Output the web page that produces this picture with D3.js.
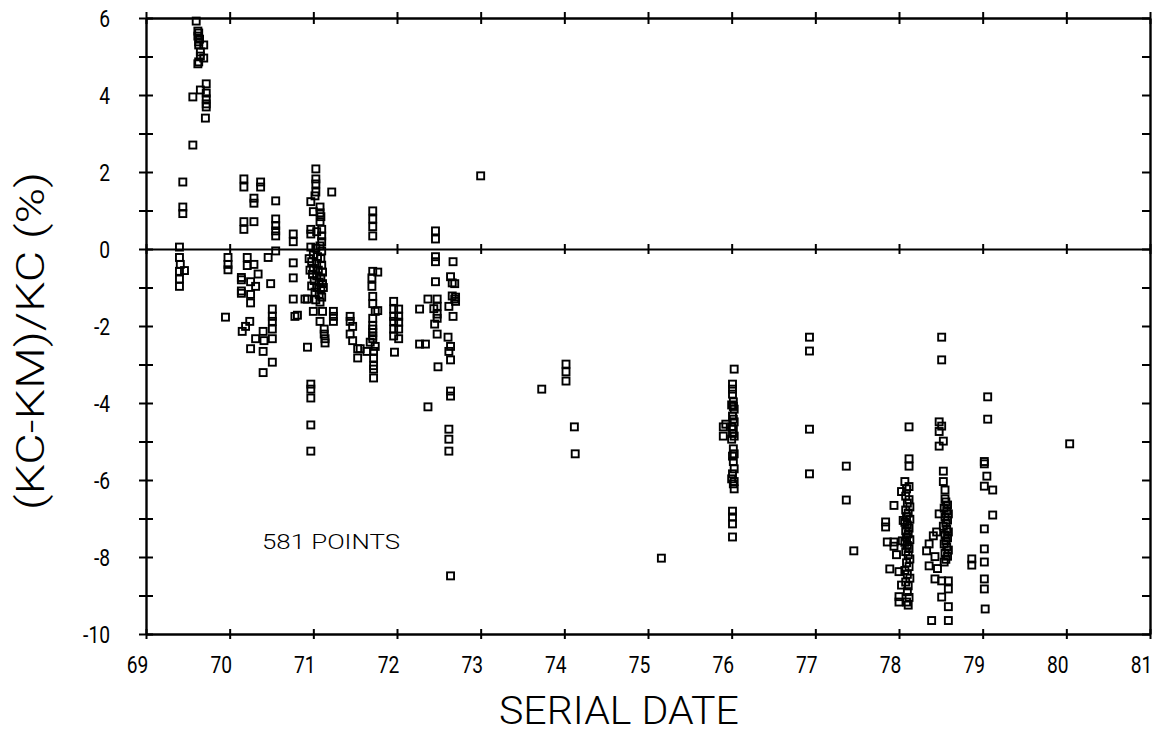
<!DOCTYPE html>
<html>
<head>
<meta charset="utf-8">
<script src="https://cdn.jsdelivr.net/npm/d3@7"></script>
<style>
  body { margin: 0; background: #fff; }
  svg { display: block; }
  text { font-family: Roboto, "Liberation Sans", sans-serif; fill: #000; }
</style>
</head>
<body>
<svg id="chart" width="1153" height="736"></svg>
<script>
// Axis ticks and labels
const xTickValues = d3.range(69, 82);          // serial date, one tick per year
const yTickValues = d3.range(-10, 7);          // percent, labels on even values
const xTitle = "SERIAL DATE";
const yTitle = "(KC-KM)/KC (%)";
const noteText = "581 POINTS";

// Measurements: [serial date, (KC-KM)/KC in %]
const points1969 = [
  [69.40, 0.05], [69.40, -0.22], [69.41, -0.40], [69.40, -0.58], [69.46, -0.56], [69.40, -0.78],
  [69.40, -0.97], [69.44, 1.74], [69.44, 1.09], [69.44, 0.92],
  [69.60, 5.92], [69.62, 5.66], [69.63, 5.61], [69.62, 5.53], [69.64, 5.45], [69.63, 5.38],
  [69.63, 5.30], [69.69, 5.30], [69.65, 5.12], [69.65, 5.01], [69.69, 4.96], [69.63, 4.86],
  [69.62, 4.81], [69.72, 4.29], [69.65, 4.13], [69.56, 3.95], [69.72, 4.05], [69.72, 3.90],
  [69.72, 3.77], [69.72, 3.69], [69.71, 3.40], [69.56, 2.70]
];

const points1970 = [
  [69.95, -1.77], [69.98, -0.22], [69.98, -0.40], [69.98, -0.54],
  [70.17, 1.82], [70.17, 1.61], [70.37, 1.74], [70.37, 1.61], [70.29, 1.32], [70.29, 1.19], [70.55, 1.25],
  [70.17, 0.71], [70.17, 0.51], [70.29, 0.71], [70.55, 0.78], [70.55, 0.61], [70.55, 0.47], [70.55, 0.34],
  [70.76, 0.39], [70.76, 0.19], [70.55, -0.05], [70.46, -0.22],
  [70.21, -0.22], [70.21, -0.43], [70.29, -0.40], [70.34, -0.65], [70.14, -0.74], [70.14, -0.80],
  [70.25, -0.85], [70.31, -0.97], [70.14, -1.09], [70.14, -1.15], [70.25, -1.18], [70.25, -1.40], [70.49, -0.90],
  [70.51, -1.56], [70.51, -1.75], [70.51, -1.88], [70.51, -2.08], [70.15, -2.14], [70.19, -2.01],
  [70.24, -1.88], [70.40, -2.14], [70.31, -2.33], [70.41, -2.38], [70.51, -2.33], [70.25, -2.59],
  [70.40, -2.66], [70.51, -2.94], [70.40, -3.21],
  [70.76, -0.36], [70.76, -0.75], [70.76, -1.30], [70.78, -1.75], [70.81, -1.72], [70.93, -2.55], [70.93, -1.30]
];

const points1971 = [
  [71.03, 2.08], [71.03, 1.82], [71.03, 1.69], [71.03, 1.48], [71.02, 1.38], [70.97, 1.23], [71.00, 0.97],
  [71.08, 1.09], [71.08, 0.94], [71.09, 0.84], [71.08, 0.71], [70.97, 0.51], [70.97, 0.39], [71.04, 0.45],
  [71.10, 0.51], [71.10, 0.34], [71.10, 0.19], [71.22, 1.48],
  [70.97, 0.05], [71.03, 0.02], [71.08, 0.08], [71.10, -0.05], [71.00, -0.15], [71.05, -0.20], [71.09, -0.25],
  [70.98, -0.33], [71.04, -0.38], [71.10, -0.42], [71.00, -0.50], [71.06, -0.55], [71.11, -0.60], [70.99, -0.66],
  [71.04, -0.70], [71.09, -0.75], [71.01, -0.82], [71.07, -0.86], [71.11, -0.90], [70.98, -0.96], [71.04, -1.00],
  [71.09, -1.05], [71.02, -1.12], [71.07, -1.18], [71.10, -1.25], [71.03, -1.32], [71.08, -1.38], [70.95, -0.25],
  [70.96, -0.55], [71.12, -1.00],
  [71.00, -1.62], [71.11, -1.62], [71.24, -1.62], [71.24, -1.75], [71.24, -1.88], [71.08, -1.88], [71.13, -2.08],
  [71.13, -2.21], [71.14, -2.33], [71.14, -2.44], [70.90, -1.30], [70.97, -3.51], [70.97, -3.64], [70.97, -3.87],
  [70.97, -4.57], [70.97, -5.25],
  [71.44, -1.75], [71.44, -1.88], [71.47, -2.01], [71.44, -2.21], [71.47, -2.38], [71.53, -2.59], [71.53, -2.83],
  [71.56, -2.59], [71.64, -2.66],
  [71.71, 0.99], [71.71, 0.78], [71.71, 0.58], [71.71, 0.34], [71.71, -0.58], [71.77, -0.60], [71.70, -0.75],
  [71.70, -0.97], [71.71, -1.23], [71.71, -1.42], [71.74, -1.62], [71.77, -1.60], [71.71, -1.80], [71.71, -1.99],
  [71.71, -2.08], [71.71, -2.17], [71.71, -2.26], [71.71, -2.33], [71.68, -2.42], [71.74, -2.53], [71.72, -2.66],
  [71.72, -2.83], [71.72, -3.03], [71.72, -3.12], [71.72, -3.35],
  [71.96, -1.36], [71.96, -1.56], [71.96, -1.75], [71.96, -1.88], [71.96, -2.08], [71.96, -2.26], [72.02, -1.56],
  [72.02, -1.75], [72.02, -1.90], [72.02, -2.08], [72.02, -2.33], [71.97, -2.68]
];

const points1972 = [
  [72.27, -1.56], [72.27, -2.47], [72.34, -2.47], [72.37, -1.30], [72.37, -4.10],
  [72.46, 0.47], [72.46, 0.26], [72.46, -0.20], [72.46, -0.33], [72.46, -0.85], [72.48, -1.30], [72.48, -1.49],
  [72.48, -1.69], [72.48, -1.80], [72.48, -2.21], [72.49, -3.06], [72.44, -1.55], [72.45, -1.95],
  [72.67, -0.33], [72.64, -0.72], [72.66, -0.88], [72.69, -0.90], [72.66, -1.22], [72.70, -1.36], [72.62, -1.49],
  [72.67, -1.75], [72.61, -2.29], [72.64, -2.53], [72.62, -2.66], [72.64, -2.88], [72.64, -3.69], [72.64, -3.82],
  [72.62, -4.68], [72.62, -4.94], [72.62, -5.25], [72.64, -8.49], [72.70, -1.25], [72.69, -1.30],
  [73.00, 1.90], [73.73, -3.64], [74.02, -2.99], [74.02, -3.19], [74.02, -3.43], [74.12, -4.62], [74.13, -5.32],
  [75.16, -8.03]
];

const points1976 = [
  [76.03, -3.12], [76.01, -3.51], [76.01, -3.64], [76.01, -3.77], [76.02, -3.97], [76.00, -4.05], [76.02, -4.09],
  [76.03, -4.16], [76.01, -4.34], [76.02, -4.42], [76.03, -4.49], [76.00, -4.62], [76.02, -4.68], [76.01, -4.79],
  [76.03, -4.86], [76.00, -4.94], [76.02, -5.19], [76.03, -5.32], [76.01, -5.38], [76.02, -5.52], [76.03, -5.71],
  [76.01, -5.84], [76.00, -5.97], [76.03, -6.04], [76.02, -6.10], [76.03, -6.23], [76.01, -6.81], [76.01, -6.96],
  [76.01, -7.14], [76.01, -7.48], [75.90, -4.62], [75.90, -4.86], [75.93, -4.55],
  [76.93, -2.29], [76.93, -2.65], [76.93, -4.68], [76.93, -5.84], [77.37, -5.64], [77.37, -6.52], [77.46, -7.84]
];

const points1978 = [
  [78.12, -4.62], [78.12, -5.45], [78.12, -5.64], [78.07, -6.04], [78.09, -6.23], [78.12, -6.17],
  [78.08, -6.42], [78.12, -6.51], [78.10, -6.60], [78.13, -6.70], [78.08, -6.78], [78.11, -6.86], [78.09, -6.95],
  [78.13, -7.02], [78.07, -7.10], [78.10, -7.17], [78.12, -7.25], [78.08, -7.32], [78.11, -7.40], [78.09, -7.48],
  [78.13, -7.55], [78.07, -7.62], [78.10, -7.70], [78.12, -7.78], [78.08, -7.86], [78.11, -7.94], [78.13, -8.05],
  [78.09, -8.15], [78.12, -8.25], [78.07, -8.35], [78.10, -8.45], [78.13, -8.55], [78.08, -8.65], [78.11, -8.75],
  [78.10, -8.90], [78.12, -9.05], [78.09, -9.17], [78.11, -9.25],
  [77.94, -6.66], [77.84, -7.09], [77.84, -7.22], [77.86, -7.61], [77.94, -7.61], [77.94, -7.72], [77.97, -7.94],
  [77.89, -8.31], [78.00, -8.38], [78.03, -8.73], [78.00, -9.03], [78.00, -9.17], [78.03, -6.30], [78.05, -7.05],
  [78.04, -7.58],
  [78.51, -2.29], [78.51, -2.88], [78.48, -4.49], [78.51, -4.60], [78.48, -4.74], [78.53, -4.99], [78.48, -5.12],
  [78.53, -5.77], [78.53, -6.04], [78.55, -6.26], [78.55, -6.49],
  [78.56, -6.57], [78.58, -6.65], [78.54, -6.73], [78.57, -6.80], [78.59, -6.88], [78.55, -6.96], [78.58, -7.04],
  [78.56, -7.12], [78.53, -7.20], [78.57, -7.28], [78.59, -7.35], [78.55, -7.43], [78.58, -7.50], [78.56, -7.58],
  [78.54, -7.66], [78.57, -7.74], [78.59, -7.82], [78.55, -7.90], [78.58, -7.98], [78.56, -8.06], [78.54, -8.13],
  [78.48, -6.88], [78.45, -7.35], [78.36, -7.66], [78.33, -7.84], [78.43, -7.99], [78.36, -8.23], [78.43, -8.57],
  [78.51, -8.62], [78.59, -8.62], [78.59, -8.83], [78.51, -9.04], [78.59, -9.29], [78.39, -9.65], [78.59, -9.65],
  [78.41, -7.45], [78.46, -8.30],
  [78.87, -8.05], [78.87, -8.21]
];

const points1979 = [
  [79.06, -3.84], [79.06, -4.42], [79.02, -5.52], [79.02, -5.58], [79.05, -5.90], [79.02, -6.16], [79.12, -6.26],
  [79.12, -6.91], [79.02, -7.27], [79.02, -7.79], [79.02, -8.13], [79.02, -8.57], [79.02, -8.83], [79.03, -9.35],
  [80.04, -5.06]
];

const allPoints = [].concat(points1969, points1970, points1971, points1972, points1976, points1978, points1979);

const svg = d3.select("#chart");
const x = d3.scaleLinear().domain([69, 81]).range([146, 1150]);
const y = d3.scaleLinear().domain([-10, 6]).range([634, 18]);

const axisStroke = 2.4;
const tickStroke = 2;

function styleAxis(g) {
  g.select(".domain").attr("stroke", "#000").attr("stroke-width", axisStroke);
  g.selectAll(".tick line").attr("stroke", "#000").attr("stroke-width", tickStroke);
}

// Bottom axis with labels shifted slightly left of each tick
const bottomAxis = svg.append("g")
  .attr("transform", `translate(0,${y(-10)})`)
  .call(d3.axisBottom(x).tickValues(xTickValues).tickSize(5).tickSizeOuter(0).tickFormat(d3.format("d")));
bottomAxis.call(styleAxis);
bottomAxis.selectAll(".tick line").attr("y1", -5);
bottomAxis.selectAll(".tick text")
  .attr("x", null).attr("y", null).attr("dy", null)
  .attr("transform", "translate(-9,39) scale(0.8,1)")
  .attr("font-size", 24).attr("font-family", "Roboto, sans-serif");

// Top axis: ticks only
const topAxis = svg.append("g")
  .attr("transform", `translate(0,${y(6)})`)
  .call(d3.axisTop(x).tickValues(xTickValues).tickSize(6).tickSizeOuter(0).tickFormat(""));
topAxis.call(styleAxis);
topAxis.selectAll(".tick line").attr("y1", 6);

// Zero line with crossing ticks
const zeroAxis = svg.append("g")
  .attr("transform", `translate(0,${y(0)})`)
  .call(d3.axisBottom(x).tickValues(xTickValues).tickSize(5).tickSizeOuter(0).tickFormat(""));
zeroAxis.call(styleAxis);
zeroAxis.select(".domain").attr("stroke-width", 2.2);
zeroAxis.selectAll(".tick line").attr("y1", -5);

// Left axis: crossing ticks at every unit, labels on even values
const leftAxis = svg.append("g")
  .attr("transform", `translate(${x(69)},0)`)
  .call(d3.axisLeft(y).tickValues(yTickValues).tickSize(7).tickSizeOuter(0)
    .tickFormat(d => (d % 2 === 0 ? String(d) : "")));
leftAxis.call(styleAxis);
leftAxis.selectAll(".tick line").attr("x1", 7);
leftAxis.selectAll(".tick text")
  .attr("x", null).attr("dy", null)
  .attr("transform", "translate(-36,8) scale(0.8,1)")
  .attr("text-anchor", "end")
  .attr("font-size", 24).attr("font-family", "Roboto, sans-serif");

// Right axis: inward ticks
const rightAxis = svg.append("g")
  .attr("transform", `translate(${x(81)},0)`)
  .call(d3.axisLeft(y).tickValues(yTickValues).tickSize(8).tickSizeOuter(0).tickFormat(""));
rightAxis.call(styleAxis);

// Data points as hollow squares
const s = 7;
svg.append("g")
  .selectAll("rect")
  .data(allPoints)
  .join("rect")
  .attr("x", d => x(d[0]) - s / 2)
  .attr("y", d => y(d[1]) - s / 2)
  .attr("width", s)
  .attr("height", s)
  .attr("fill", "none")
  .attr("stroke", "#000")
  .attr("stroke-width", 1.9);

// Point count note
svg.append("text")
  .attr("x", 262).attr("y", 549)
  .attr("font-size", 20)
  .attr("font-weight", 300)
  .attr("textLength", 138)
  .attr("lengthAdjust", "spacingAndGlyphs")
  .text(noteText);

// Axis titles
svg.append("text")
  .attr("x", 499).attr("y", 724)
  .attr("font-size", 38)
  .attr("font-weight", 300)
  .attr("textLength", 240)
  .attr("lengthAdjust", "spacingAndGlyphs")
  .text(xTitle);

svg.append("text")
  .attr("transform", "translate(44,510) rotate(-90)")
  .attr("font-size", 38)
  .attr("font-weight", 300)
  .attr("textLength", 338)
  .attr("lengthAdjust", "spacingAndGlyphs")
  .text(yTitle);
</script>
</body>
</html>
